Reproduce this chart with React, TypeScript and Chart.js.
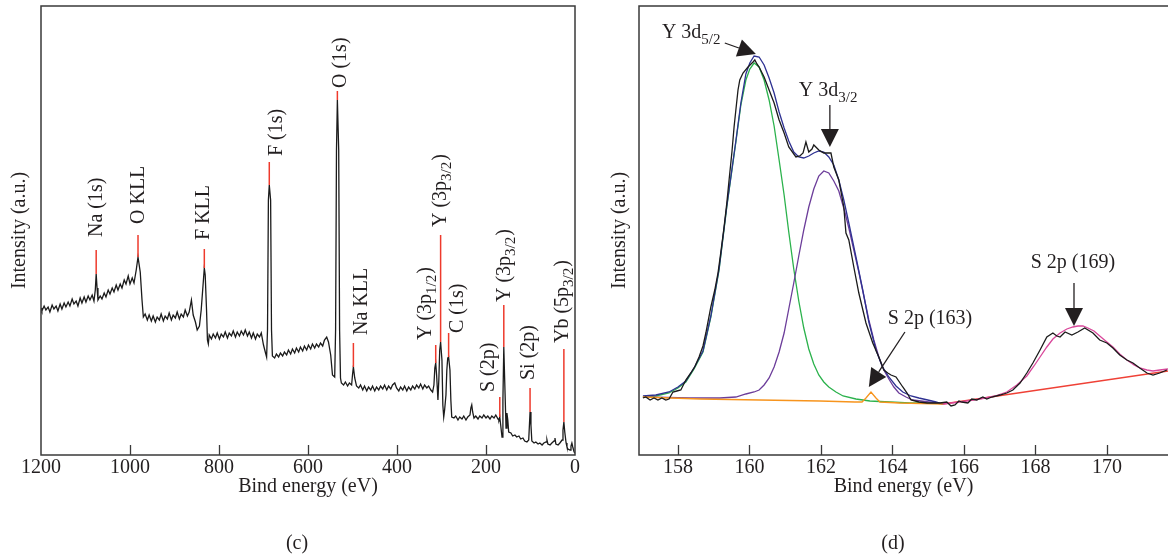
import React, { useEffect, useRef } from "react";
import { Chart, registerables } from "chart.js";
Chart.register(...registerables);

const FONT = "'Liberation Serif', 'Times New Roman', serif";
const INK = "#231f20";
const FRAME = "#3a3a3a";

// ---------- panel (c): survey spectrum ----------
const surveyEnergy = [
  1200, 1198, 1193, 1189, 1184, 1180, 1175, 1171, 1166, 1162,
  1157, 1153, 1148, 1144, 1139, 1135, 1130, 1126, 1121, 1117,
  1112, 1108, 1103, 1099, 1094, 1090, 1085, 1081, 1078, 1076,
  1074, 1072, 1067, 1063, 1058, 1054, 1049, 1045, 1040, 1036,
  1031, 1027, 1022, 1018, 1013, 1009, 1004, 1000, 995, 991,
  986, 982, 977, 973, 970, 966, 961, 957, 952, 948,
  943, 939, 934, 930, 925, 921, 916, 912, 907, 903,
  898, 894, 889, 885, 880, 876, 871, 867, 862, 858,
  853, 849, 844, 840, 835, 833, 831, 828, 826, 824,
  822, 817, 813, 808, 804, 799, 795, 790, 786, 781,
  777, 772, 768, 763, 759, 754, 750, 745, 741, 736,
  732, 727, 723, 718, 714, 709, 705, 700, 696, 693,
  691, 689, 687, 684, 682, 680, 675, 671, 666, 662,
  657, 653, 648, 644, 639, 635, 630, 626, 621, 617,
  612, 608, 603, 599, 594, 590, 585, 581, 576, 572,
  567, 563, 558, 554, 549, 547, 545, 540, 538, 536,
  534, 531, 529, 527, 525, 520, 516, 511, 507, 502,
  500, 498, 495, 491, 486, 482, 477, 473, 468, 464,
  459, 455, 450, 446, 441, 437, 432, 428, 423, 419,
  414, 410, 405, 401, 396, 392, 387, 383, 378, 374,
  369, 365, 360, 356, 351, 347, 342, 338, 333, 329,
  324, 320, 317, 315, 313, 311, 308, 306, 304, 302,
  299, 297, 295, 293, 290, 288, 286, 284, 281, 279,
  277, 272, 268, 263, 259, 254, 250, 245, 241, 236,
  234, 232, 230, 227, 223, 218, 214, 209, 205, 200,
  196, 191, 187, 182, 178, 173, 171, 169, 167, 164,
  162, 160, 158, 155, 153, 151, 149, 144, 140, 135,
  131, 126, 122, 117, 113, 108, 104, 101, 99, 97,
  92, 88, 83, 79, 74, 70, 65, 63, 61, 56,
  52, 47, 45, 43, 38, 34, 29, 27, 25, 23,
  20, 18, 16, 11, 9, 7, 5, 2, 0,
];
const surveyIntensity = [
  147, 144, 149, 145, 148, 143, 150, 146, 149, 144,
  151, 146, 152, 148, 153, 149, 156, 151, 154, 149,
  157, 152, 158, 153, 159, 155, 160, 154, 165, 181,
  167, 155, 159, 156, 162, 158, 165, 161, 167, 163,
  170, 165, 171, 167, 175, 171, 179, 171, 177, 172,
  185, 198, 183, 155, 138, 141, 135, 140, 134, 139,
  133, 138, 135, 141, 134, 139, 136, 142, 135, 140,
  137, 143, 136, 141, 138, 145, 139, 143, 155, 140,
  133, 125, 129, 145, 175, 187, 180, 145, 115, 111,
  120, 116, 121, 117, 122, 116, 121, 118, 123, 117,
  122, 119, 124, 118, 123, 119, 124, 120, 125, 119,
  123, 117, 122, 116, 121, 118, 122, 110, 103, 98,
  125, 255, 270, 255, 125, 99, 97, 101, 98, 102,
  99, 103, 100, 105, 101, 106, 102, 107, 103, 108,
  104, 109, 105, 110, 106, 111, 107, 111, 108, 112,
  109, 115, 118, 113, 100, 90, 80, 78, 125, 305,
  355, 305, 125, 77, 72, 70, 73, 69, 72, 70,
  80, 88, 77, 69, 67, 70, 65, 69, 64, 68,
  65, 69, 64, 68, 65, 69, 66, 70, 65, 69,
  66, 70, 72, 67, 64, 68, 65, 69, 64, 68,
  65, 69, 66, 70, 67, 71, 66, 70, 67, 69,
  65, 63, 70, 87, 92, 80, 55, 75, 105, 113,
  95, 50, 38, 45, 60, 85, 97, 98, 85, 55,
  38, 37, 39, 35, 38, 36, 39, 35, 38, 40,
  47, 50, 43, 37, 39, 36, 39, 37, 40, 37,
  39, 36, 39, 37, 40, 36, 35, 38, 30, 18,
  55, 108, 75, 27, 42, 35, 23, 22, 19, 20,
  18, 19, 16, 17, 14, 13, 15, 43, 30, 14,
  12, 13, 11, 12, 10, 12, 13, 15, 11, 10,
  12, 14, 17, 11, 10, 12, 15, 25, 33, 23,
  12, 8, 6, 5, 9, 12, 8, 3, 2,
];

// peak markers (red) and their labels
const peakEnergy = [1076, 982, 833, 687, 534, 498, 313, 302, 284, 169, 160, 101, 25];
const peakLow = [181, 198, 187, 270, 355, 88, 92, 113, 98, 38, 108, 43, 33];
const peakHigh = [205, 220, 206, 293, 364, 112, 110, 220, 122, 58, 150, 67, 106];
const peakLabelMain = ["Na (1s)", "O KLL", "F KLL", "F (1s)", "O (1s)", "Na KLL", "Y (3p", "Y (3p", "C (1s)", "S (2p)", "Y (3p", "Si (2p)", "Yb (5p"];
const peakLabelSub = ["", "", "", "", "", "", "1/2", "3/2", "", "", "3/2", "", "3/2"];
const peakLabelTail = ["", "", "", "", "", "", ")", ")", "", "", ")", "", ")"];
const peakLabelEnergy = [1076, 982, 835, 673, 529, 480, 338, 304, 266, 196, 160, 106, 29];
const peakLabelStart = [218, 231, 215, 299, 367, 120, 115, 228, 122, 63, 153, 75, 112];

// ---------- panel (d): Y 3d / S 2p ----------
const rawE = [
  157.02, 157.10, 157.22, 157.33, 157.44, 157.55, 157.66, 157.75, 157.86, 157.97,
  158.08, 158.22, 158.36, 158.48, 158.59, 158.70, 158.78, 158.92, 159.03, 159.12,
  159.20, 159.29, 159.37, 159.43, 159.51, 159.57, 159.62, 159.68, 159.73, 159.82,
  159.96, 160.10, 160.15, 160.21, 160.27, 160.41, 160.55, 160.69, 160.83, 160.97,
  161.10, 161.30, 161.41, 161.50, 161.58, 161.66, 161.75, 161.80, 161.94, 162.08,
  162.28, 162.36, 162.50, 162.64, 162.70, 162.78, 162.92, 163.06, 163.26, 163.45,
  163.62, 163.76, 163.87, 163.96, 164.10, 164.29, 164.41, 164.52, 164.74, 164.97,
  165.19, 165.33, 165.52, 165.64, 165.75, 165.86, 165.94, 166.11, 166.22, 166.36,
  166.53, 166.64, 166.78, 167.01, 167.20, 167.37, 167.57, 167.76, 167.93, 168.13,
  168.32, 168.49, 168.60, 168.69, 168.83, 169.02, 169.19, 169.38, 169.61, 169.80,
  170.00, 170.17, 170.36, 170.56, 170.73, 170.92, 171.12, 171.29, 171.48, 171.68,
];
const rawI = [
  57, 58, 55, 57, 55, 57, 55, 56, 63, 64,
  65, 75, 82, 89, 98, 109, 122, 148, 165, 182,
  203, 228, 253, 275, 303, 328, 345, 365, 375, 382,
  388, 393, 395, 391, 388, 378, 365, 352, 335, 322,
  308, 298, 299, 302, 313, 303, 306, 310, 305, 302,
  302, 288, 275, 248, 222, 215, 188, 162, 132, 112,
  98, 85, 82, 80, 78, 68, 62, 55, 53, 52,
  52, 52, 53, 49, 50, 54, 53, 52, 56, 55,
  58, 56, 58, 60, 62, 65, 72, 82, 92, 105,
  118, 122, 119, 118, 123, 120, 123, 127, 122, 115,
  112, 107, 100, 95, 92, 87, 82, 80, 82, 85,
];
const envelopeE = [157.02, 157.38, 157.75, 158.00, 158.22, 158.45, 158.70, 158.92, 159.15, 159.37, 159.62, 159.76, 159.90, 160.01, 160.13, 160.27, 160.41, 160.55, 160.69, 160.83, 160.97, 161.10, 161.24, 161.38, 161.52, 161.66, 161.80, 161.94, 162.08, 162.22, 162.36, 162.50, 162.64, 162.78, 162.98, 163.17, 163.34, 163.54, 163.71, 163.90, 164.10, 164.29, 164.52, 164.74, 164.99, 165.22, 165.41];
const envelopeI = [59, 60, 63, 68, 74, 87, 104, 139, 186, 250, 314, 352, 381, 392, 399, 398, 390, 377, 362, 343, 327, 314, 303, 298, 297, 299, 302, 304, 303, 298, 290, 275, 255, 232, 198, 165, 133, 105, 89, 78, 69, 63, 59, 57, 55, 53, 51];
const y52E = [157.02, 157.38, 157.75, 158.00, 158.22, 158.45, 158.70, 158.92, 159.15, 159.37, 159.62, 159.76, 159.90, 160.01, 160.13, 160.27, 160.41, 160.55, 160.69, 160.83, 160.97, 161.10, 161.24, 161.38, 161.52, 161.66, 161.80, 161.94, 162.08, 162.22, 162.42, 162.62, 162.98, 163.37, 163.93, 164.49, 165.22];
const y52I = [58, 59, 62, 67, 73, 86, 103, 138, 185, 249, 313, 350, 375, 386, 392, 388, 375, 355, 329, 295, 260, 223, 186, 154, 127, 106, 91, 80, 73, 68, 63, 59, 56, 54, 53, 52, 52];
const y32E = [157.02, 158.34, 159.17, 159.62, 159.90, 160.13, 160.27, 160.41, 160.55, 160.69, 160.83, 160.97, 161.10, 161.24, 161.38, 161.52, 161.66, 161.80, 161.94, 162.08, 162.22, 162.36, 162.50, 162.67, 162.78, 162.92, 163.06, 163.20, 163.34, 163.48, 163.62, 163.76, 163.90, 164.04, 164.18, 164.38, 164.57, 164.80, 165.02, 165.41];
const y32I = [58, 57, 57, 58, 61, 63, 65, 70, 77, 88, 103, 122, 146, 172, 199, 225, 248, 266, 279, 284, 282, 274, 264, 243, 227, 205, 183, 159, 135, 115, 98, 85, 76, 68, 62, 58, 55, 54, 53, 51];
const s163E = [157.02, 158.62, 160.29, 161.97, 162.95, 163.15, 163.26, 163.40, 163.54, 163.65, 164.21, 165.41];
const s163I = [58, 56, 55, 54, 53, 53, 57, 63, 57, 53, 52, 51];
const s169BgE = [165.41, 171.71];
const s169BgI = [51, 84];
const s169E = [165.41, 165.89, 166.45, 166.87, 167.20, 167.48, 167.76, 167.96, 168.13, 168.32, 168.49, 168.69, 168.88, 169.05, 169.19, 169.33, 169.47, 169.64, 169.80, 170.00, 170.17, 170.36, 170.56, 170.76, 170.92, 171.12, 171.29, 171.48, 171.71];
const s169I = [51, 53, 56, 59, 63, 70, 79, 89, 98, 108, 116, 122, 126, 128, 129, 129, 127, 124, 119, 113, 108, 101, 95, 90, 87, 85, 84, 85, 86];
const detailTicks = [158, 160, 162, 164, 166, 168, 170];

// annotations of panel (d)
const noteMain = ["Y 3d", "Y 3d", "S 2p (163)", "S 2p (169)"];
const noteSub = ["5/2", "3/2", "", ""];
const noteE = [157.55, 161.38, 163.87, 167.87];
const noteI = [417, 359, 131, 187];
const arrowFromE = [159.31, 162.25, 164.35, 169.08];
const arrowFromI = [412, 350, 123, 172];
const arrowToE = [160.18, 162.25, 163.34, 169.08];
const arrowToI = [401, 308, 68, 129];

function zip(xs: number[], ys: number[]) {
  const n = Math.min(xs.length, ys.length);
  const out: { x: number; y: number }[] = [];
  for (let i = 0; i < n; i++) out.push({ x: xs[i], y: ys[i] });
  return out;
}

function drawRich(ctx: CanvasRenderingContext2D, x: number, y: number, main: string, sub: string, tail: string, subDy: number) {
  ctx.font = `20px ${FONT}`;
  ctx.fillText(main, x, y);
  let w = ctx.measureText(main).width;
  if (sub) {
    ctx.font = `15px ${FONT}`;
    ctx.fillText(sub, x + w, y + subDy);
    w += ctx.measureText(sub).width;
  }
  if (tail) {
    ctx.font = `20px ${FONT}`;
    ctx.fillText(tail, x + w + 1, y);
  }
}

function drawArrow(ctx: CanvasRenderingContext2D, x0: number, y0: number, x1: number, y1: number) {
  const ang = Math.atan2(y1 - y0, x1 - x0);
  const L = 18, W = 9;
  const bx = x1 - L * Math.cos(ang), by = y1 - L * Math.sin(ang);
  ctx.beginPath();
  ctx.moveTo(x0, y0);
  ctx.lineTo(bx, by);
  ctx.stroke();
  ctx.beginPath();
  ctx.moveTo(x1, y1);
  ctx.lineTo(bx + W * Math.sin(ang), by - W * Math.cos(ang));
  ctx.lineTo(bx - W * Math.sin(ang), by + W * Math.cos(ang));
  ctx.closePath();
  ctx.fill();
}

function innerTicks(ctx: CanvasRenderingContext2D, chart: any) {
  const a = chart.chartArea;
  const xs = chart.scales.x;
  ctx.strokeStyle = FRAME;
  ctx.lineWidth = 1.3;
  xs.ticks.forEach((t: any) => {
    const px = Math.round(xs.getPixelForValue(t.value)) + 0.5;
    if (px > a.left + 2 && px < a.right - 2) {
      ctx.beginPath();
      ctx.moveTo(px, a.bottom);
      ctx.lineTo(px, a.bottom - 10);
      ctx.stroke();
    }
  });
}

const surveyDeco = {
  id: "surveyDeco",
  afterDraw(chart: any) {
    const { ctx, chartArea: a, scales } = chart;
    const x = scales.x, y = scales.y;
    ctx.save();
    ctx.strokeStyle = "#ee3a2c";
    ctx.lineWidth = 1.5;
    peakEnergy.forEach((e, i) => {
      const px = x.getPixelForValue(e);
      ctx.beginPath();
      ctx.moveTo(px, y.getPixelForValue(peakLow[i]));
      ctx.lineTo(px, y.getPixelForValue(peakHigh[i]));
      ctx.stroke();
    });
    ctx.fillStyle = INK;
    ctx.textAlign = "left";
    ctx.textBaseline = "alphabetic";
    peakLabelMain.forEach((m, i) => {
      const bx = x.getPixelForValue(peakLabelEnergy[i]) + 6;
      const by = y.getPixelForValue(peakLabelStart[i]);
      ctx.save();
      ctx.translate(bx, by);
      ctx.rotate(-Math.PI / 2);
      drawRich(ctx, 0, 0, m, peakLabelSub[i], peakLabelTail[i], 5);
      ctx.restore();
    });
    ctx.strokeStyle = FRAME;
    ctx.lineWidth = 1.5;
    ctx.strokeRect(a.left, a.top, a.right - a.left, a.bottom - a.top);
    innerTicks(ctx, chart);
    ctx.fillStyle = INK;
    ctx.font = `20px ${FONT}`;
    ctx.textAlign = "center";
    ctx.fillText("(c)", 297, 549);
    ctx.restore();
  },
};

const detailDeco = {
  id: "detailDeco",
  afterDraw(chart: any) {
    const { ctx, chartArea: a, scales } = chart;
    const x = scales.x, y = scales.y;
    ctx.save();
    ctx.strokeStyle = FRAME;
    ctx.lineWidth = 1.5;
    ctx.beginPath();
    ctx.moveTo(a.right, a.top);
    ctx.lineTo(a.left, a.top);
    ctx.lineTo(a.left, a.bottom);
    ctx.lineTo(a.right, a.bottom);
    ctx.stroke();
    innerTicks(ctx, chart);
    ctx.fillStyle = INK;
    ctx.strokeStyle = INK;
    ctx.lineWidth = 1.3;
    ctx.textAlign = "left";
    ctx.textBaseline = "alphabetic";
    noteMain.forEach((m, i) => {
      drawRich(ctx, x.getPixelForValue(noteE[i]), y.getPixelForValue(noteI[i]), m, noteSub[i], "", 6);
    });
    arrowFromE.forEach((e, i) => {
      drawArrow(ctx, x.getPixelForValue(e), y.getPixelForValue(arrowFromI[i]), x.getPixelForValue(arrowToE[i]), y.getPixelForValue(arrowToI[i]));
    });
    ctx.font = `20px ${FONT}`;
    ctx.textAlign = "center";
    ctx.fillText("(d)", 293, 549);
    ctx.restore();
  },
};

function lineDs(data: { x: number; y: number }[], color: string, width = 1.3) {
  return { data, borderColor: color, borderWidth: width, pointRadius: 0, tension: 0, fill: false };
}

function baseOptions(xMin: number, xMax: number, reverse: boolean, yWidth: number, rightPad: number, stepSize?: number, fixedTicks?: number[]) {
  const tickFont = { family: FONT, size: 20 };
  return {
    animation: false as const,
    responsive: false,
    devicePixelRatio: 1,
    layout: { padding: { left: 0, right: rightPad, top: 6, bottom: 0 } },
    plugins: { legend: { display: false }, tooltip: { enabled: false } },
    scales: {
      x: {
        type: "linear" as const,
        reverse,
        min: xMin,
        max: xMax,
        ticks: {
          stepSize,
          autoSkip: false,
          maxRotation: 0,
          font: tickFont,
          color: INK,
          padding: 1,
          callback: (v: any) => String(v),
        },
        afterBuildTicks: fixedTicks
          ? (s: any) => {
              s.ticks = fixedTicks.map((v) => ({ value: v }));
            }
          : undefined,
        grid: { display: false, drawTicks: false },
        border: { display: false },
        title: { display: true, text: "Bind energy (eV)", font: tickFont, color: INK, padding: { top: 0, bottom: 57 } },
        afterFit: (s: any) => {
          s.height = 101;
        },
      },
      y: {
        min: 0,
        max: 449,
        ticks: { display: false },
        grid: { display: false, drawTicks: false },
        border: { display: false },
        title: { display: true, text: "Intensity (a.u.)", font: tickFont, color: INK, padding: { top: 8, bottom: 0 } },
        afterFit: (s: any) => {
          s.width = yWidth;
        },
      },
    },
  };
}

export default function App() {
  const leftRef = useRef<HTMLCanvasElement>(null);
  const rightRef = useRef<HTMLCanvasElement>(null);

  useEffect(() => {
    const left = new Chart(leftRef.current!, {
      type: "line",
      data: { datasets: [lineDs(zip(surveyEnergy, surveyIntensity), "#1b1b1b", 1.3)] as any },
      options: baseOptions(0, 1200, true, 41, 25, 200) as any,
      plugins: [surveyDeco],
    });
    const right = new Chart(rightRef.current!, {
      type: "line",
      data: {
        datasets: [
          lineDs(zip(rawE, rawI), "#1b1b1b"),
          lineDs(zip(s163E, s163I), "#f7941d"),
          lineDs(zip(s169E, s169I), "#d9489b"),
          lineDs(zip(s169BgE, s169BgI), "#ef4136"),
          lineDs(zip(envelopeE, envelopeI), "#2e3192"),
          lineDs(zip(y32E, y32I), "#6c3d9a"),
          lineDs(zip(y52E, y52I), "#2bb24c"),
        ] as any,
      },
      options: baseOptions(156.91, 171.71, false, 39, 0, 2, detailTicks) as any,
      plugins: [detailDeco],
    });
    return () => {
      left.destroy();
      right.destroy();
    };
  }, []);

  return (
    <div style={{ position: "fixed", left: 0, top: 0, width: 1168, height: 556, background: "#fff" }}>
      <canvas ref={leftRef} width={600} height={556} style={{ position: "absolute", left: 0, top: 0, width: 600, height: 556 }} />
      <canvas ref={rightRef} width={568} height={556} style={{ position: "absolute", left: 600, top: 0, width: 568, height: 556 }} />
    </div>
  );
}
